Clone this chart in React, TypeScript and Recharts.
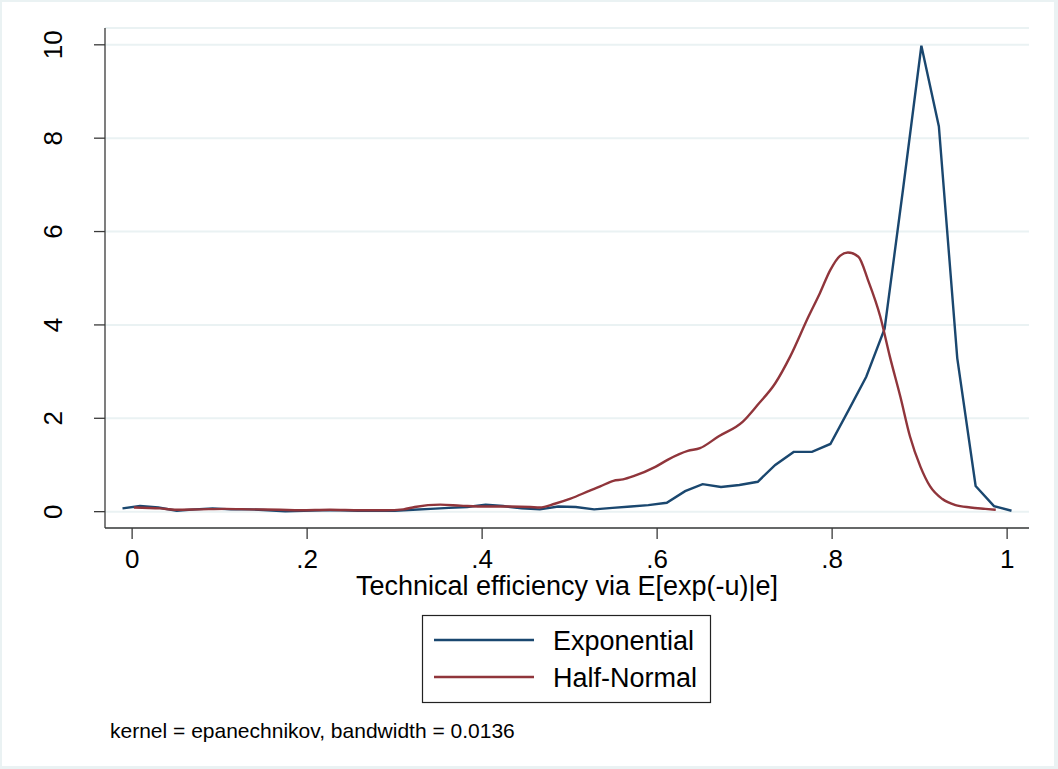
import React from "react";
import { LineChart, Line, XAxis, YAxis, CartesianGrid, Label } from "recharts";

const FONT = '"Liberation Sans", Arial, Helvetica, sans-serif';

const seriesNames = ["Exponential", "Half-Normal"];
const seriesColors = ["#1a476f", "#90353b"];

const xTicks = [0, 0.2, 0.4, 0.6, 0.8, 1];
const xTickLabels = ["0", ".2", ".4", ".6", ".8", "1"];
const yTicks = [0, 2, 4, 6, 8, 10];
const yTickLabels = ["0", "2", "4", "6", "8", "10"];

const xTitle = "Technical efficiency via E[exp(-u)|e]";
const note = "kernel = epanechnikov, bandwidth = 0.0136";

const expX = [
  -0.011, 0.009, 0.03, 0.051, 0.072, 0.092, 0.113, 0.134, 0.155, 0.175,
  0.196, 0.217, 0.238, 0.258, 0.279, 0.3, 0.321, 0.341, 0.362, 0.383,
  0.404, 0.424, 0.445, 0.466, 0.487, 0.507, 0.528, 0.549, 0.57, 0.59,
  0.611, 0.632, 0.652, 0.673, 0.694, 0.715, 0.735, 0.756, 0.777, 0.798,
  0.819, 0.839, 0.86, 0.881, 0.902, 0.922, 0.943, 0.964, 0.985, 1.005,
];
const expY = [
  0.07, 0.12, 0.09, 0.02, 0.05, 0.07, 0.05, 0.05, 0.03, 0.01,
  0.02, 0.03, 0.03, 0.02, 0.02, 0.02, 0.04, 0.06, 0.08, 0.1,
  0.15, 0.12, 0.07, 0.05, 0.11, 0.1, 0.05, 0.08, 0.11, 0.14,
  0.19, 0.44, 0.59, 0.53, 0.57, 0.64, 1.0, 1.28, 1.28, 1.45,
  2.18, 2.89, 3.92, 6.9, 9.98, 8.25, 3.29, 0.55, 0.12, 0.02,
];

const hnX = [
  0.002, 0.032, 0.049, 0.078, 0.106, 0.135, 0.169, 0.192, 0.226, 0.261,
  0.289, 0.31, 0.323, 0.352, 0.375, 0.403, 0.432, 0.455, 0.466, 0.483,
  0.501, 0.523, 0.535, 0.55, 0.561, 0.573, 0.598, 0.613, 0.635, 0.649,
  0.67, 0.698, 0.715, 0.735, 0.752, 0.773, 0.786, 0.798, 0.809, 0.818,
  0.83, 0.841, 0.855, 0.866, 0.878, 0.889, 0.901, 0.912, 0.926, 0.941,
  0.958, 0.975, 0.987,
];
const hnY = [
  0.09, 0.07, 0.04, 0.05, 0.06, 0.05, 0.04, 0.03, 0.04, 0.03,
  0.03, 0.05, 0.1, 0.15, 0.13, 0.11, 0.11, 0.1, 0.09, 0.17,
  0.28, 0.45, 0.54, 0.66, 0.69, 0.76, 0.96, 1.12, 1.3, 1.36,
  1.61, 1.93, 2.29, 2.75, 3.32, 4.18, 4.68, 5.18, 5.48, 5.55,
  5.46, 4.96, 4.18, 3.32, 2.46, 1.61, 0.96, 0.54, 0.27, 0.14,
  0.09, 0.06, 0.04,
];

const expData = expX.map((x, i) => ({ x, y: expY[i] }));
const hnData = hnX.map((x, i) => ({ x, y: hnY[i] }));

const AXIS = "#3a3a3a";

const XTick = (props: any) => {
  const { x, y, payload } = props;
  const idx = xTicks.indexOf(payload.value);
  return (
    <text x={x} y={y + 29} textAnchor="middle" fontSize={26} fontFamily={FONT} fill="#000">
      {idx >= 0 ? xTickLabels[idx] : payload.value}
    </text>
  );
};

const YTick = (props: any) => {
  const { x, y, payload } = props;
  const idx = yTicks.indexOf(payload.value);
  return (
    <text
      transform={`translate(${x - 32}, ${y}) rotate(-90)`}
      textAnchor="middle"
      fontSize={26}
      fontFamily={FONT}
      fill="#000"
    >
      {idx >= 0 ? yTickLabels[idx] : payload.value}
    </text>
  );
};

const TitleLabel = (props: any) => {
  const vb = props.viewBox || {};
  return (
    <text x={vb.x + vb.width / 2} y={vb.y + 67} textAnchor="middle" fontSize={27} fontFamily={FONT} fill="#000">
      {xTitle}
    </text>
  );
};

export default function App() {
  return (
    <div style={{ position: "absolute", left: 0, top: 0, width: 1058, height: 769, background: "#eaf2f3" }}>
      <div style={{ position: "absolute", left: 2, top: 2, width: 1052, height: 764, background: "#ffffff" }} />
      <div style={{ position: "absolute", left: 0, top: 0 }}>
        <LineChart
          width={1058}
          height={769}
          margin={{ top: 28, right: 29, left: 45, bottom: 181 }}
        >
          <CartesianGrid horizontal={true} vertical={false} stroke="#eaf2f3" strokeWidth={2} />
          <XAxis
            type="number"
            dataKey="x"
            domain={[-0.031, 1.025]}
            allowDataOverflow
            ticks={xTicks}
            tick={<XTick />}
            tickSize={11}
            tickMargin={0}
            height={60}
            stroke={AXIS}
            strokeWidth={1.3}
            interval={0}
          >
            <Label content={<TitleLabel />} />
          </XAxis>
          <YAxis
            type="number"
            dataKey="y"
            domain={[-0.35, 10.36]}
            allowDataOverflow
            ticks={yTicks}
            tick={<YTick />}
            tickSize={11}
            tickMargin={0}
            width={60}
            stroke={AXIS}
            strokeWidth={1.3}
            interval={0}
          />
          <Line
            data={expData}
            dataKey="y"
            name={seriesNames[0]}
            type="linear"
            stroke={seriesColors[0]}
            strokeWidth={2.4}
            dot={false}
            activeDot={false}
            isAnimationActive={false}
          />
          <Line
            data={hnData}
            dataKey="y"
            name={seriesNames[1]}
            type="monotone"
            stroke={seriesColors[1]}
            strokeWidth={2.4}
            dot={false}
            activeDot={false}
            isAnimationActive={false}
          />
        </LineChart>
      </div>
      <svg
        width={1058}
        height={769}
        style={{ position: "absolute", left: 0, top: 0, pointerEvents: "none" }}
      >
        <rect x={422.5} y={615.5} width={288} height={87} fill="#fff" stroke="#222" strokeWidth={1.2} />
        {seriesNames.map((n, i) => (
          <g key={n}>
            <line x1={434} x2={534} y1={640 + i * 37} y2={640 + i * 37} stroke={seriesColors[i]} strokeWidth={2.4} />
            <text x={553} y={650 + i * 37} fontSize={27} fontFamily={FONT} fill="#000">
              {n}
            </text>
          </g>
        ))}
        <text x={110} y={738} fontSize={21} fontFamily={FONT} fill="#000">
          {note}
        </text>
      </svg>
    </div>
  );
}
